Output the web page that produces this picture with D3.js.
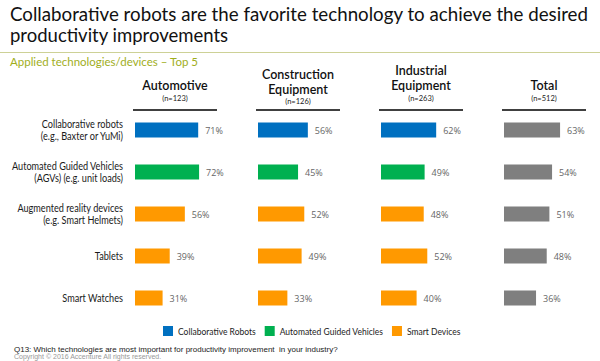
<!DOCTYPE html>
<html>
<head>
<meta charset="utf-8">
<script src="https://cdn.jsdelivr.net/npm/d3@7"></script>
<style>
  html, body { margin: 0; padding: 0; background: #fff; }
  svg { display: block; }
</style>
</head>
<body>
<svg id="chart" width="600" height="361"></svg>
<script>
// ---------- data ----------
const titleLines = ["Collaborative robots are the favorite technology to achieve the desired", "productivity improvements"];
const subtitle = "Applied technologies/devices \u2013 Top 5";
const categories = [
  ["Collaborative robots", "(e.g., Baxter or YuMi)"],
  ["Automated Guided Vehicles", "(AGVs) (e.g. unit loads)"],
  ["Augmented reality devices", "(e.g. Smart Helmets)"],
  ["Tablets"],
  ["Smart Watches"]
];
const categoryType = ["Collaborative Robots", "Automated Guided Vehicles", "Smart Devices", "Smart Devices", "Smart Devices"];
const groups = [["Automotive"], ["Construction", "Equipment"], ["Industrial", "Equipment"], ["Total"]];
const groupN = ["(n=123)", "(n=126)", "(n=263)", "(n=512)"];
const automotive = [71, 72, 56, 39, 31];
const construction = [56, 45, 52, 49, 33];
const industrial = [62, 49, 48, 52, 40];
const total = [63, 54, 51, 48, 36];
const seriesValues = [automotive, construction, industrial, total];
const legendItems = ["Collaborative Robots", "Automated Guided Vehicles", "Smart Devices"];
const footnote = "Q13: Which technologies are most important for productivity improvement  in your industry?";
const copyright = "Copyright \u00a9 2016 Accenture  All rights reserved.";

// ---------- setup ----------
const svg = d3.select("#chart");
const font = "Lato, 'Open Sans', sans-serif";
const color = d3.scaleOrdinal()
  .domain(legendItems)
  .range(["#0070c0", "#00b050", "#ff9900"]);
const totalColor = "#7f7f7f";

// title
svg.selectAll("text.title").data(titleLines).join("text")
  .attr("class", "title")
  .attr("x", 10).attr("y", (d, i) => 21 + i * 21)
  .attr("font-family", font).attr("font-size", 18.5)
  .attr("fill", "#111")
  .each(function(d, i) { if (i === 0) { d3.select(this).attr("textLength", 578).attr("lengthAdjust", "spacingAndGlyphs"); } })
  .text(d => d);

svg.append("line")
  .attr("x1", 0).attr("x2", 600).attr("y1", 52.5).attr("y2", 52.5)
  .attr("stroke", "#cdd196").attr("stroke-width", 1.2);

svg.append("text")
  .attr("x", 10).attr("y", 66)
  .attr("font-family", font).attr("font-size", 11.5)
  .attr("fill", "#9fae1c")
  .text(subtitle);

// scales
const xGroup = d3.scaleBand().domain(d3.range(groups.length)).range([133, 625]).paddingInner(0);
const panelW = 84;
const xVal = d3.scaleLinear().domain([0, 100]).range([0, 89]);
const yRow = d3.scaleBand().domain(d3.range(categories.length)).range([109, 319]);
const barH = 15;

// headers
groups.forEach((g, i) => {
  const cx = xGroup(i) + panelW / 2;
  const shift = i === 1 ? 4 : 0;
  const hdr = svg.append("g");
  if (g.length === 1) {
    hdr.append("text").attr("x", cx).attr("y", 90).attr("text-anchor", "middle")
      .attr("font-family", font).attr("font-size", 12.5).attr("font-weight", 600).attr("fill", "#111")
      .text(g[0]);
  } else {
    g.forEach((line, j) => {
      hdr.append("text").attr("x", cx).attr("y", 75 + shift + j * 15).attr("text-anchor", "middle")
        .attr("font-family", font).attr("font-size", 12.5).attr("font-weight", 600).attr("fill", "#111")
        .text(line);
    });
  }
  hdr.append("text").attr("x", cx).attr("y", 101 + shift * 0.8).attr("text-anchor", "middle")
    .attr("font-family", font).attr("font-size", 7.5).attr("fill", "#222")
    .text(groupN[i]);
  hdr.append("line")
    .attr("x1", xGroup(i)).attr("x2", xGroup(i) + panelW)
    .attr("y1", 110).attr("y2", 110)
    .attr("stroke", "#000").attr("stroke-width", 1.6);
});

// category labels (condensed to match the narrow original face)
categories.forEach((c, i) => {
  const cy = yRow(i) + yRow.bandwidth() / 2;
  const n = c.length;
  c.forEach((line, j) => {
    const t = svg.append("text")
      .attr("x", 123)
      .attr("y", cy + 4 + (j - (n - 1) / 2) * 12)
      .attr("text-anchor", "end")
      .attr("font-family", font).attr("font-size", 10.5).attr("fill", "#1a1a1a")
      .text(line);
    const w = t.node().getComputedTextLength();
    t.attr("textLength", w * 0.87).attr("lengthAdjust", "spacingAndGlyphs");
  });
});

// bars
seriesValues.forEach((vals, gi) => {
  const g = svg.append("g").attr("transform", `translate(${xGroup(gi) + 2},0)`);
  g.selectAll("rect").data(vals).join("rect")
    .attr("x", 0)
    .attr("y", (d, i) => yRow(i) + yRow.bandwidth() / 2 - barH / 2)
    .attr("width", d => xVal(d))
    .attr("height", barH)
    .attr("fill", (d, i) => gi === groups.length - 1 ? totalColor : color(categoryType[i]));
  g.selectAll("text").data(vals).join("text")
    .attr("x", d => xVal(d) + 7)
    .attr("y", (d, i) => yRow(i) + yRow.bandwidth() / 2 + 3.5)
    .attr("font-family", "'Open Sans', sans-serif").attr("font-size", 9).attr("fill", "#666")
    .text(d => d + "%");
});

// legend
let lx = 163;
const legend = svg.append("g");
legendItems.forEach(item => {
  legend.append("rect").attr("x", lx).attr("y", 326).attr("width", 10).attr("height", 10).attr("fill", color(item));
  const t = legend.append("text").attr("x", lx + 15).attr("y", 334.5)
    .attr("font-family", font).attr("font-size", 8.5).attr("fill", "#222").text(item);
  lx += 15 + t.node().getComputedTextLength() + 9;
});

// footnotes
svg.append("text").attr("x", 14).attr("y", 352)
  .attr("font-family", "'Liberation Sans', Arial, sans-serif").attr("font-size", 8).attr("fill", "#222")
  .attr("xml:space", "preserve").style("white-space", "pre")
  .text(footnote);
svg.append("text").attr("x", 14).attr("y", 359)
  .attr("font-family", "'Liberation Sans', Arial, sans-serif").attr("font-size", 7).attr("fill", "#999")
  .text(copyright);
</script>
</body>
</html>
